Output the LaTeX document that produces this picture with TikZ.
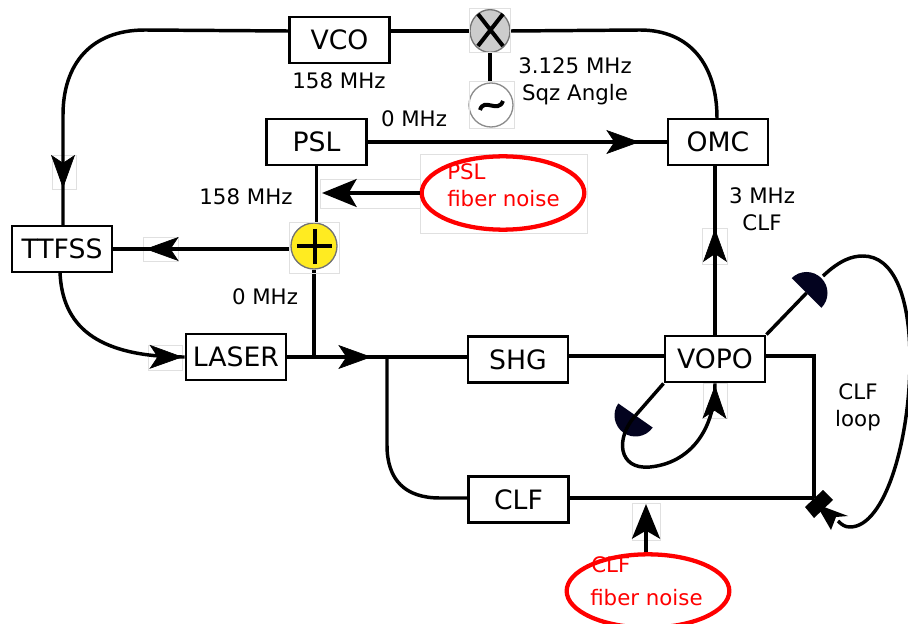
\documentclass[tikz,border=0pt]{standalone}
\usepackage{fontspec}
\setmainfont{DejaVu Sans}
\usetikzlibrary{arrows.meta,shapes.geometric,decorations.markings}
\definecolor{mirrorblue}{rgb}{0.01,0.01,0.12}
\definecolor{sumyellow}{rgb}{1,0.92,0.13}
\definecolor{mixgray}{rgb}{0.8,0.8,0.8}
\tikzset{
  blockbox/.style={draw,line width=2.2pt,minimum width=75pt,minimum height=34.5pt,inner sep=0pt,font=\fontsize{20}{22}\selectfont},
  beam/.style={line width=2.6pt},
  lbl/.style={inner sep=0pt,align=center,font=\fontsize{16}{20}\selectfont},
  redlbl/.style={inner sep=0pt,anchor=base west,text=red,font=\fontsize{16}{20}\selectfont},
  noisering/.style={draw=red,line width=3.2pt,shape=ellipse,minimum width=122pt,minimum height=55pt,inner sep=0pt},
  imgframe/.style={draw=black!12,line width=0.5pt},
  headat/.style={postaction={decorate,decoration={markings,mark=at position #1 with {\arrow[line width=0.5pt]{Stealth[length=25pt,width=18pt,inset=6pt]}}}}},
  bighead/.style={-{Stealth[length=26pt,width=21pt,inset=6pt]}}
}
\begin{document}
\begin{tikzpicture}[x=0.75pt,y=0.75pt,yscale=-1,xscale=1]
	\useasboundingbox (0,0) rectangle (908,624);
	% faint frames
	\draw [imgframe] (52,155) rectangle (76,189);
	\draw [imgframe] (143,237) rectangle (178,261);
	\draw [imgframe] (148,345) rectangle (182,370);
	\draw [imgframe] (320,179) rectangle (420,208);
	\draw [imgframe] (420,154) rectangle (587,233);
	\draw [imgframe] (702,228) rectangle (727,264);
	\draw [imgframe] (703,383) rectangle (727,418);
	\draw [imgframe] (632,503) rectangle (660,540);

	% Blocks
	\node [blockbox] (vco) at (339.5,40) {VCO};
	\node [blockbox] (psl) at (316.5,142) {PSL};
	\node [blockbox] (omc) at (718,142) {OMC};
	\node [blockbox] (ttfss) at (62,249) {TTFSS};
	\node [blockbox] (laser) at (236,357) {LASER};
	\node [blockbox] (shg) at (518,359.5) {SHG};
	\node [blockbox] (vopo) at (715,359) {VOPO};
	\node [blockbox] (clf) at (518.5,499.5) {CLF};

	\node [draw=black!55,fill=mixgray,line width=1pt,shape=ellipse,minimum width=30pt,minimum height=32pt,inner sep=0pt] (mixer) at (490,31) {};
	\node [draw=black!45,fill=white,line width=1pt,shape=circle,minimum size=33pt,inner sep=0pt] (sqzosc) at (491,105) {};
	\node [draw=black!55,fill=sumyellow,line width=1pt,shape=circle,minimum size=34.5pt,inner sep=0pt] (sum) at (314,246) {};
	\node [noisering] (pslnoise) at (503,193) {};
	\node [noisering] (clfnoise) at (648,591) {};

	% Free ends
	\coordinate (pslnoisetip) at (322,193);
	\coordinate (clfnoisetip) at (646,504);
	\coordinate (tapjoin) at (314,356);
	\coordinate (clfjoin) at (387,356);
	\coordinate (splitter) at (814,498);
	\coordinate (mirrorup) at (806.5,293);
	\coordinate (mirrordown) at (635.5,415.5);

	% Connectors
	\draw [beam] (vco.east |- mixer) -- (mixer);
	\draw [beam] (mixer.east) -- (640,30) .. controls (690,30) and (717,65) .. (717,118);
	\draw [beam,headat=0.905] (vco.west |- mixer) -- (145,30) .. controls (90,30) and (63,65) .. (63,115) -- (63,225);
	\draw [beam,headat=0.99] (60,272) .. controls (62,325) and (95,357) .. (laser.west);
	\draw [beam,headat=0.82] (sum.west |- ttfss) -- (ttfss.east);
	\draw [beam] (psl.south) -- (psl.south |- sum.north);
	\draw [beam] (sum.south) -- (tapjoin);
	\draw [beam,headat=0.47] (laser.east) -- (shg.west |- laser);
	\draw [beam,headat=0.91] (psl.east) -- (omc.west);
	\draw [beam] (clfjoin) -- (387,445) .. controls (387,480) and (405,498) .. (440,498) -- (clf.west |- splitter);
	\draw [beam] (shg.east |- 0,356) -- (664,356);
	\draw [beam] (766,356) -| (splitter);
	\draw [beam] (clf.east |- splitter) -- (splitter);
	\draw [beam,headat=0.63] (vopo.north) -- (omc.south -| vopo.north);
	\draw [beam] (mixer.south) -- (sqzosc.north -| mixer);
	\draw [beam,bighead] (pslnoise.west |- pslnoisetip) -- (pslnoisetip);
	\draw [beam,bighead] (clfnoise.north -| clfnoisetip) -- (clfnoisetip);

	% Mirrors
	\begin{scope}[shift={(mirrorup)},rotate=-135]
		\fill [mirrorblue] (21,0) arc [start angle=0,end angle=180,radius=21] -- cycle;
	\end{scope}
	\begin{scope}[shift={(mirrordown)},rotate=35]
		\fill [mirrorblue] (21,0) arc [start angle=0,end angle=180,radius=21] -- cycle;
	\end{scope}

	% VOPO loop
	\draw [beam] (vopo.south west) -- (mirrordown);
	\draw [beam] (vopo.north east) -- (mirrorup);
	\draw [beam,headat=0.99] (mirrordown) .. controls (615,438) and (618,470) .. (650,467) .. controls (690,463) and (715,430) .. (vopo.south);
	% CLF loop
	\draw [beam] (823,276) .. controls (840,260) and (852,256) .. (863,256) .. controls (893,256) and (910,295) .. (910,360) .. controls (910,440) and (885,527) .. (850,527) .. controls (845,527) and (842,525) .. (838,521);

	% Splitter
	\fill (805,507) -- (823,490) -- (833,500) -- (814,518) -- cycle;
	\fill (816,504) -- (848,516) -- (836,517) -- (831,530) -- cycle;

	% Symbols
	\draw [line width=3pt] (478,14) -- (503,46) (503,14) -- (478,46);
	\draw [line width=3pt] (480,110) .. controls (484,97) and (498,114) .. (503,101);
	\draw [line width=3pt] (297,246) -- (332,246) (314.5,229) -- (314.5,264);
	\draw [imgframe] (469,8) rectangle (510,52);
	\draw [imgframe] (469,81) rectangle (514,128);
	\draw [imgframe] (289,222) rectangle (339,273);

	% Text Node
	\node [lbl] (lblvco) at (339,81) {158 MHz};
	\node [lbl] (lblsqz) at (575,81) {3.125 MHz\\Sqz Angle};
	\node [lbl] (lblpsl) at (414,119) {0 MHz};
	\node [lbl] (lblfb) at (246,197) {158 MHz};
	\node [lbl] (lbllaser) at (265,297) {0 MHz};
	\node [lbl] (lblclf) at (762,209) {3 MHz\\CLF};
	\node [lbl] (lblloop) at (858,407) {CLF\\loop};
	\node [redlbl] (pslname) at (447,180) {PSL};
	\node [redlbl] (pslfiber) at (447,207) {fiber noise};
	\node [redlbl] (clfname) at (591,572) {CLF};
	\node [redlbl] (clffiber) at (590,605) {fiber noise};
\end{tikzpicture}
\end{document}
